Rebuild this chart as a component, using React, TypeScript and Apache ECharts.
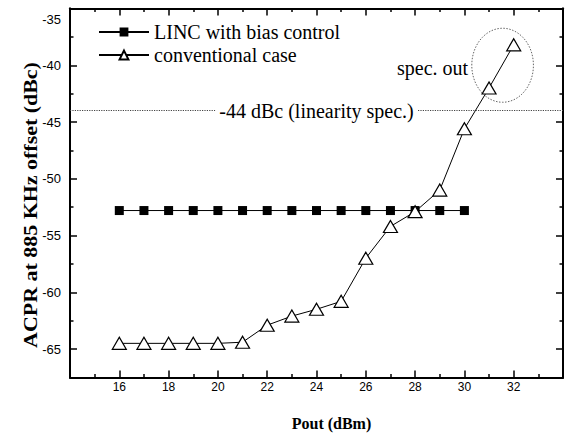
import React, { useEffect, useRef } from 'react';
import * as echarts from 'echarts';

// ---- data ----
const lincPout = [16, 17, 18, 19, 20, 21, 22, 23, 24, 25, 26, 27, 28, 29, 30];
const lincAcpr = [-52.8, -52.8, -52.8, -52.8, -52.8, -52.8, -52.8, -52.8, -52.8, -52.8, -52.8, -52.8, -52.8, -52.8, -52.8];
const convPout = [16, 17, 18, 19, 20, 21, 22, 23, 24, 25, 26, 27, 28, 29, 30, 31, 32];
const convAcpr = [-64.5, -64.5, -64.5, -64.5, -64.5, -64.4, -62.9, -62.1, -61.5, -60.8, -57.0, -54.2, -52.9, -51.0, -45.6, -42.0, -38.2];
const yMajorTicks = [-65, -60, -55, -50, -45, -40, -35];
const yMinorTicks = [-62.5, -57.5, -52.5, -47.5, -42.5, -37.5];
const specLimit = -44;
const specLabel = '-44 dBc (linearity spec.)';
const seriesNames = ['LINC with bias control', 'conventional case'];
const xTitle = 'Pout (dBm)';
const yTitle = 'ACPR at 885 KHz offset (dBc)';
const specOutText = 'spec. out';
// annotation anchors (data units)
const ellipseCenter = [31.55, -40.0];
const ellipseRadius = [1.25, 3.26];
const specOutAnchor = [30.15, -40.25];

const X_MIN = 14, X_MAX = 34, Y_MIN = -67.5, Y_MAX = -35;

export default function App() {
  const ref = useRef<HTMLDivElement>(null);
  useEffect(() => {
    if (!ref.current) return;
    const chart = echarts.init(ref.current, null, { renderer: 'svg' });
    const black = '#000';
    const axisLine = { show: true, lineStyle: { color: black, width: 2 } };
    const yAxisBase = (pos: string) => ({
      type: 'value', min: Y_MIN, max: Y_MAX, position: pos,
      axisLine, splitLine: { show: false },
    });
    const option: any = {
      animation: false,
      backgroundColor: '#fff',
      grid: { left: 70, right: -2, top: 8.5, bottom: 59.6, containLabel: false },
      legend: {
        orient: 'vertical', left: 93, top: 17, itemWidth: 50, itemHeight: 11, itemGap: 3,
        textStyle: { fontFamily: '"Liberation Serif", serif', fontSize: 20, color: black },
        data: seriesNames,
        selectedMode: false,
      },
      xAxis: [
        {
          type: 'value', min: X_MIN, max: X_MAX, interval: 2, position: 'bottom',
          axisLine,
          axisTick: { show: true, inside: true, length: 7, lineStyle: { color: black, width: 1.5 } },
          minorTick: { show: true, splitNumber: 2, length: 3.5, lineStyle: { color: black, width: 1.5 } },
          splitLine: { show: false }, minorSplitLine: { show: false },
          axisLabel: {
            margin: 4, fontFamily: '"Liberation Sans", Arial, sans-serif', fontSize: 12, color: black,
            formatter: (v: number) => (v === X_MIN || v === X_MAX ? '' : String(v)),
          },
          name: xTitle, nameLocation: 'middle', nameGap: 38,
          nameTextStyle: { fontFamily: '"Liberation Serif", serif', fontWeight: 'bold', fontSize: 16, color: black, padding: [0, 0, 0, 30] },
        },
        {
          type: 'value', min: X_MIN, max: X_MAX, interval: 2, position: 'top',
          axisLine,
          axisTick: { show: true, inside: true, length: 7, lineStyle: { color: black, width: 1.5 } },
          minorTick: { show: true, splitNumber: 2, length: 3.5, lineStyle: { color: black, width: 1.5 } },
          splitLine: { show: false }, axisLabel: { show: false },
        },
      ],
      yAxis: [
        {
          ...yAxisBase('left'),
          axisTick: { show: true, inside: true, length: 7, customValues: yMajorTicks, lineStyle: { color: black, width: 1.5 } },
          axisLabel: {
            customValues: yMajorTicks, margin: 9,
            fontFamily: '"Liberation Sans", Arial, sans-serif', fontSize: 13, color: black,
            formatter: (v: number) => (v === Y_MAX ? '{top|' + v + '}' : String(v)),
            rich: { top: { padding: [22, 0, 0, 0], fontFamily: '"Liberation Sans", Arial, sans-serif', fontSize: 13, color: black } },
          },
        },
        {
          ...yAxisBase('left'),
          axisTick: { show: true, inside: true, length: 3.5, customValues: yMinorTicks, lineStyle: { color: black, width: 1.5 } },
          axisLabel: { show: false },
        },
        {
          ...yAxisBase('right'),
          axisTick: { show: true, inside: true, length: 7, customValues: yMajorTicks, lineStyle: { color: black, width: 1.5 } },
          axisLabel: { show: false },
        },
        {
          ...yAxisBase('right'),
          axisTick: { show: true, inside: true, length: 3.5, customValues: yMinorTicks, lineStyle: { color: black, width: 1.5 } },
          axisLabel: { show: false },
        },
      ],
      series: [
        {
          name: seriesNames[0], type: 'line', xAxisIndex: 0, yAxisIndex: 0,
          data: lincPout.map((x, i) => [x, lincAcpr[i]]),
          symbol: 'rect', symbolSize: 9,
          lineStyle: { color: black, width: 1 },
          itemStyle: { color: black },
          emphasis: { disabled: true },
          z: 3,
        },
        {
          name: seriesNames[1], type: 'line', xAxisIndex: 0, yAxisIndex: 0,
          data: convPout.map((x, i) => [x, convAcpr[i]]),
          symbol: 'triangle', symbolSize: [14, 12],
          lineStyle: { color: black, width: 1 },
          itemStyle: { color: '#fff', borderColor: black, borderWidth: 1.2 },
          emphasis: { disabled: true },
          z: 4,
          markLine: {
            silent: true, symbol: 'none',
            data: [{ yAxis: specLimit }],
            lineStyle: { type: 'dotted', color: '#444', width: 1.2 },
            label: {
              show: true, position: 'insideMiddle', formatter: specLabel,
              fontFamily: '"Liberation Serif", serif', fontSize: 20, color: black,
              backgroundColor: '#fff', padding: [0, 4],
            },
            emphasis: { disabled: true },
          },
        },
      ],
    };
    chart.setOption(option);

    const finder = { xAxisIndex: 0, yAxisIndex: 0 };
    const c = chart.convertToPixel(finder, ellipseCenter) as number[];
    const e = chart.convertToPixel(finder, [ellipseCenter[0] + ellipseRadius[0], ellipseCenter[1] + ellipseRadius[1]]) as number[];
    const s = chart.convertToPixel(finder, specOutAnchor) as number[];
    chart.setOption({
      graphic: [
        {
          type: 'ellipse', silent: true, z: 10,
          shape: { cx: c[0], cy: c[1], rx: Math.abs(e[0] - c[0]), ry: Math.abs(c[1] - e[1]) },
          style: { fill: 'none', stroke: '#666', lineWidth: 1, lineDash: [1.5, 1.5] },
        },
        {
          type: 'text', silent: true, z: 10, x: s[0], y: s[1],
          style: { text: specOutText, font: '20px "Liberation Serif", serif', fill: black, align: 'right', verticalAlign: 'middle' },
        },
        {
          type: 'text', silent: true, z: 10, x: 31, y: 205, rotation: Math.PI / 2, scaleX: 1.22,
          style: { text: yTitle, font: 'bold 18px "Liberation Serif", serif', fill: black, align: 'center', verticalAlign: 'middle' },
        },
      ],
    });
    return () => chart.dispose();
  }, []);
  return <div ref={ref} style={{ position: 'fixed', left: 0, top: 0, width: 566, height: 437, background: '#fff' }} />;
}
